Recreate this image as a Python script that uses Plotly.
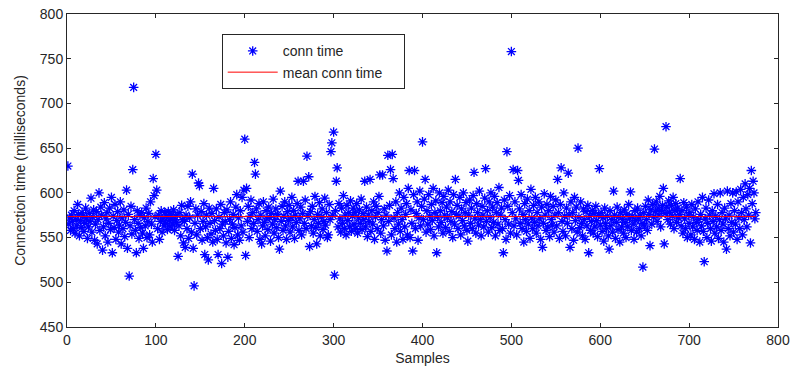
import plotly.graph_objects as go

conn_time = [
    630, 565, 572, 558, 575, 568, 560, 580, 555, 570, 563, 587, 576, 552, 569, 561, 578, 574, 557, 566, 583, 571, 549, 562, 577,
    568, 594, 556, 573, 581, 547, 565, 579, 543, 570, 600, 558, 584, 575, 536, 562, 589, 552, 571, 578, 545, 566, 583, 559, 595,
    533, 574, 561, 587, 548, 569, 579, 556, 564, 590, 543, 572, 560, 581, 551, 567, 603, 538, 576, 507, 563, 585, 554, 626, 718,
    570, 558, 533, 580, 566, 549, 575, 561, 578, 555, 538, 572, 563, 583, 550, 568, 577, 553, 590, 565, 545, 616, 597, 573, 643,
    603, 560, 575, 548, 568, 580, 556, 571, 563, 578, 566, 574, 559, 579, 569, 562, 576, 572, 565, 581, 558, 570, 567, 575, 529,
    563, 578, 552, 586, 570, 544, 568, 539, 575, 560, 585, 549, 572, 590, 556, 621, 538, 496, 566, 582, 553, 575, 611, 608, 560,
    579, 547, 568, 588, 531, 562, 575, 550, 525, 583, 566, 554, 577, 545, 605, 569, 558, 582, 548, 531, 573, 560, 587, 521, 565,
    552, 578, 568, 544, 581, 528, 557, 570, 590, 549, 565, 576, 542, 561, 584, 598, 553, 572, 547, 580, 563, 595, 556, 603, 660,
    530, 605, 568, 585, 550, 574, 592, 560, 578, 566, 634, 621, 582, 557, 570, 588, 548, 575, 543, 563, 590, 567, 552, 580, 571,
    559, 584, 573, 546, 577, 565, 593, 555, 570, 582, 561, 576, 550, 537, 602, 568, 585, 558, 574, 590, 563, 548, 579, 569, 586,
    556, 572, 595, 562, 580, 549, 575, 567, 588, 613, 558, 571, 584, 553, 577, 613, 566, 592, 560, 641, 574, 618, 540, 579, 563,
    585, 555, 570, 596, 561, 543, 576, 566, 589, 552, 573, 582, 559, 568, 594, 564, 578, 550, 553, 587, 570, 646, 656, 575, 668,
    508, 580, 613, 628, 562, 588, 571, 556, 583, 566, 597, 560, 575, 553, 586, 569, 578, 562, 591, 557, 574, 583, 565, 578, 560,
    588, 555, 572, 581, 566, 593, 559, 577, 570, 613, 562, 584, 551, 575, 568, 615, 557, 580, 565, 590, 548, 573, 585, 560, 578,
    596, 620, 555, 570, 620, 563, 582, 547, 575, 535, 642, 568, 586, 626, 553, 643, 616, 572, 560, 590, 545, 578, 565, 600, 557,
    583, 570, 548, 595, 562, 576, 588, 553, 605, 625, 550, 581, 566, 535, 598, 625, 560, 577, 590, 547, 572, 602, 563, 585, 657,
    570, 593, 615, 556, 580, 565, 598, 574, 559, 587, 569, 605, 552, 578, 591, 533, 573, 562, 600, 580, 567, 589, 555, 596, 575,
    561, 584, 572, 603, 557, 590, 568, 579, 550, 598, 565, 615, 576, 586, 560, 574, 595, 553, 582, 569, 600, 563, 578, 589, 558,
    546, 575, 592, 566, 583, 560, 597, 623, 571, 555, 588, 578, 564, 602, 570, 552, 585, 575, 562, 594, 627, 568, 580, 556, 590,
    573, 600, 561, 584, 567, 596, 552, 578, 589, 565, 606, 558, 575, 583, 560, 533, 592, 570, 548, 646, 585, 565, 597, 555, 758,
    578, 626, 563, 590, 571, 553, 625, 614, 582, 566, 598, 560, 576, 545, 588, 570, 557, 593, 565, 580, 549, 604, 572, 560, 586,
    567, 595, 555, 578, 563, 590, 571, 548, 584, 539, 566, 599, 575, 558, 587, 562, 580, 551, 596, 570, 564, 585, 556, 575, 592,
    563, 615, 578, 549, 587, 628, 568, 557, 600, 574, 552, 583, 566, 622, 575, 539, 590, 560, 578, 547, 595, 569, 584, 556, 650,
    573, 561, 590, 566, 552, 582, 570, 548, 579, 563, 586, 533, 574, 558, 568, 580, 555, 577, 562, 585, 569, 551, 575, 627, 564,
    578, 557, 572, 546, 583, 566, 560, 574, 552, 537, 580, 563, 570, 556, 602, 575, 549, 567, 584, 559, 573, 545, 578, 562, 570,
    555, 581, 567, 550, 576, 562, 587, 571, 601, 558, 574, 565, 548, 580, 569, 556, 583, 572, 560, 575, 552, 566, 517, 578, 563,
    585, 570, 558, 592, 576, 541, 581, 565, 587, 573, 649, 579, 590, 568, 583, 575, 596, 562, 580, 586, 605, 543, 577, 674, 584,
    570, 591, 578, 565, 586, 574, 595, 560, 580, 588, 567, 583, 572, 576, 616, 563, 580, 555, 589, 571, 560, 584, 550, 575, 566,
    578, 553, 587, 562, 573, 548, 582, 567, 558, 590, 570, 545, 576, 563, 595, 557, 523, 571, 583, 550, 566, 592, 575, 560, 546,
    580, 568, 599, 555, 574, 562, 587, 549, 570, 600, 558, 578, 565, 545, 583, 571, 537, 602, 560, 575, 552, 588, 567, 600, 556,
    580, 565, 601, 548, 590, 572, 560, 604, 578, 553, 595, 570, 610, 582, 562, 598, 575, 605, 544, 625, 588, 613, 600, 571, 578,
]
samples = list(range(1, len(conn_time) + 1))
mean_conn_time = 573.5

x_ticks = [0, 100, 200, 300, 400, 500, 600, 700, 800]
y_ticks = [450, 500, 550, 600, 650, 700, 750, 800]

axis_color = "#262626"
font = dict(family="Liberation Sans, Arial, sans-serif", size=14, color=axis_color)

fig = go.Figure()
fig.add_trace(go.Scatter(
    x=samples, y=conn_time, mode="markers", name="conn time", legendgroup="a",
    marker=dict(symbol="asterisk-open", size=8, color="#0000FF",
                line=dict(color="#0000FF", width=1.3)),
))
fig.add_trace(go.Scatter(
    x=[samples[0], samples[-1]], y=[mean_conn_time, mean_conn_time],
    mode="lines", name="mean conn time\u00a0\u00a0\u00a0\u00a0", legendgroup="b",
    line=dict(color="#FF0000", width=1),
))

axis_common = dict(
    showgrid=False, zeroline=False, showline=True, linecolor=axis_color,
    linewidth=1, mirror="ticks", ticks="inside", ticklen=4, tickcolor=axis_color,
    tickfont=font, automargin=False,
)
fig.update_layout(
    width=792, height=376,
    margin=dict(l=67, r=14, t=14, b=49),
    paper_bgcolor="white", plot_bgcolor="white",
    font=font,
    showlegend=True,
    legend=dict(
        x=0.2176, y=0.935, xanchor="left", yanchor="top",
        bgcolor="white", bordercolor=axis_color, borderwidth=1,
        font=font, tracegroupgap=0, itemwidth=50,
    ),
    xaxis=dict(range=[0, 800], tickvals=x_ticks, ticktext=[str(v) for v in x_ticks],
               title=dict(text="Samples", font=font, standoff=6), **axis_common),
    yaxis=dict(range=[450, 800], tickvals=y_ticks, ticktext=[str(v) for v in y_ticks],
               title=dict(text="Connection time (milliseconds)", font=font, standoff=10),
               **axis_common),
)

fig.write_html("out.html", config={"displayModeBar": False},
               post_script="document.body.style.margin='0px';")
